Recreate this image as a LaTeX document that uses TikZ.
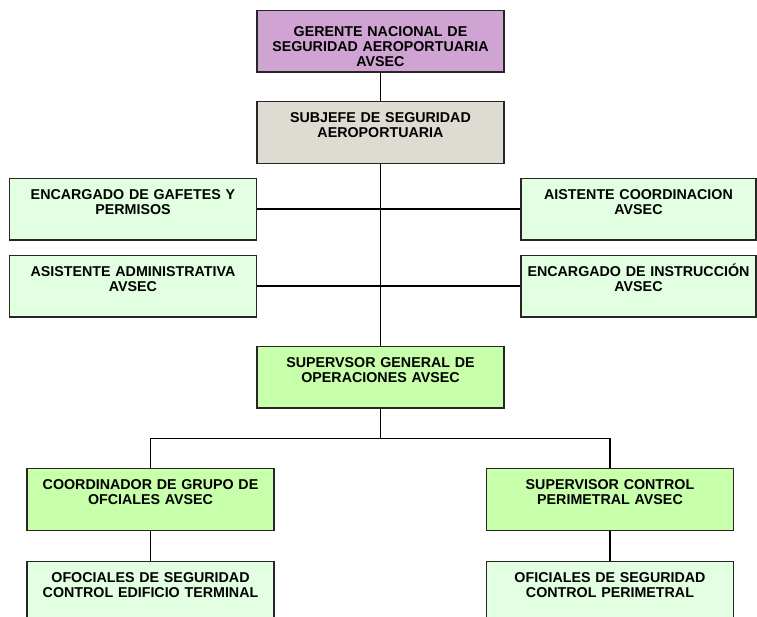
\documentclass[tikz,border=0pt]{standalone}
\usepackage{fontspec}
\setmainfont{Liberation Sans}
\usetikzlibrary{positioning}
\definecolor{chieffill}{RGB}{208,164,210}
\definecolor{deputyfill}{RGB}{222,219,211}
\definecolor{staffill}{RGB}{226,255,226}
\definecolor{leadfill}{RGB}{200,255,170}

\begin{document}
\begin{tikzpicture} [
  x = 0.75pt, y = -0.75pt,
  every node/.style = { draw = black!85, line width = 1.1pt, anchor = north, inner sep = 0,
    align = center, text width = 185.25pt, text height = 15.75pt, text depth = 30.4pt,
    font = \bfseries\fontsize{10.7}{11.25}\selectfont },
  chief/.style = { fill = chieffill, text height = 19.5pt, text depth = 26.6pt },
  deputy/.style = { fill = deputyfill },
  staff/.style = { fill = staffill },
  lead/.style = { fill = leadfill },
  narrow/.style = { text width = 176.25pt },
  link/.style = { line width = 1.1pt }
  ]
  \useasboundingbox (0,0) rectangle (757,617);
  \clip (0,0) rectangle (757,617);

  \node [chief] (gerente) at (380.5,10) {GERENTE NACIONAL DE\\SEGURIDAD AEROPORTUARIA\\AVSEC};
  \node [deputy] (subjefe) at (380.5,101) {SUBJEFE DE SEGURIDAD\\AEROPORTUARIA};
  \node [staff] (gafetes) at (133,177.5) {ENCARGADO DE GAFETES Y\\PERMISOS};
  \node [staff] (admin) at (133,254.5) {ASISTENTE ADMINISTRATIVA\\AVSEC};
  \node [staff, narrow] (coord) at (638.5,177.5) {AISTENTE COORDINACION\\AVSEC};
  \node [staff, narrow] (instr) at (638.5,254.5) {ENCARGADO DE INSTRUCCIÓN\\AVSEC};
  \node [lead] (supgen) at (380.5,345.5) {SUPERVSOR GENERAL DE\\OPERACIONES AVSEC};
  \node [lead] (grupo) at (150.5,468) {COORDINADOR DE GRUPO DE\\OFCIALES AVSEC};
  \node [lead] (perim) at (610,468) {SUPERVISOR CONTROL\\PERIMETRAL AVSEC};
  \node [staff] (ofterm) at (150.5,560.5) {OFOCIALES DE SEGURIDAD\\CONTROL EDIFICIO TERMINAL};
  \node [staff] (ofperim) at (610,560.5) {OFICIALES DE SEGURIDAD\\CONTROL PERIMETRAL};

  \draw [link] (gerente) -- (subjefe);
  \draw [link] (subjefe) -- (supgen);
  \draw [link] (gafetes.east) -- (coord.west);
  \draw [link] (admin.east) -- (instr.west);
  \draw [link] (supgen.south) -- ++(0,30) coordinate (bus);
  \draw [link] (bus) -| (grupo);
  \draw [link] (bus) -| (perim);
  \draw [link] (grupo) -- (ofterm);
  \draw [link] (perim) -- (ofperim);
\end{tikzpicture}
\end{document}
